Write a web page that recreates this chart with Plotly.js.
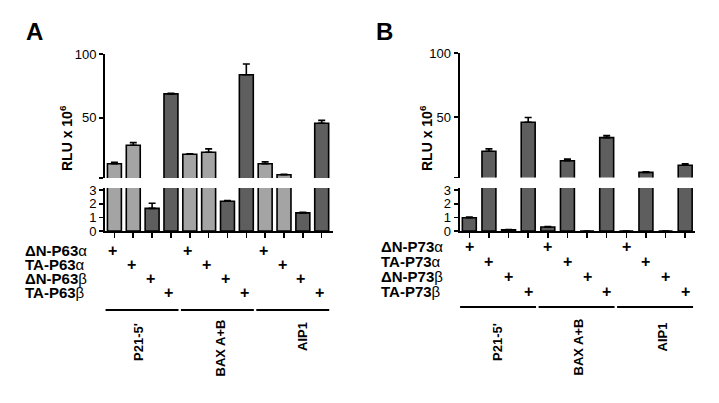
<!DOCTYPE html>
<html><head><meta charset="utf-8">
<script src="https://cdn.plot.ly/plotly-3.0.1.min.js"></script>
<style>html,body{margin:0;padding:0;background:#fff}</style>
</head><body><div id="chart" style="width:719px;height:403px"></div>
<script>
// ---------- data ----------
const groups = ["P21-5'", "BAX A+B", "AIP1"];
const isoformsA = ["ΔN-P63α", "TA-P63α", "ΔN-P63β", "TA-P63β"];
const isoformsB = ["ΔN-P73α", "TA-P73α", "ΔN-P73β", "TA-P73β"];
// RLU x 10^6, bars in order group x isoform
const valuesA = [14.1, 28.6, 1.66, 68.8, 21.6, 23.1, 2.18, 83.8, 14.1, 5.6, 1.33, 45.8];
const errorsA = [1.2, 2.1, 0.37, 0.5, 0.3, 2.7, 0.05, 8.4, 1.5, 0.2, 0.04, 2.3];
const valuesB = [0.97, 23.4, 0.08, 46.1, 0.29, 16.0, 0, 34.1, 0, 7.0, 0, 12.5];
const errorsB = [0.05, 1.9, 0.02, 3.7, 0.03, 1.3, 0, 1.5, 0, 0.4, 0, 1.1];
const upperTicks = [3, 50, 100];
const upperTickText = ["", "50", "100"];
const lowerTicks = [0, 1, 2, 3];

// ---------- styling / layout helpers ----------
const W = 719, H = 403;
const fx = p => p / W;
const fy = p => 1 - p / H;
const LIGHT = "#a4a4a4", DARK = "#5e5e5e";
const FONT = "Liberation Sans, Arial, sans-serif";

const panels = [
  { letter: "A", isoforms: isoformsA, values: valuesA, errors: errorsA,
    colorOf: iso => iso.endsWith("α") ? LIGHT : DARK,
    xl: 105, xr: 333, range: [-0.5, 11.6], upperTop: 54, upperBot: 178, lowerTop: 188, lowerBot: 231,
    barWidth: 0.74, rowY: [250.5, 264.5, 278.5, 292.5], labelX: 23, plusShift: -2,
    letterX: 34, titleX: 66, lineY: 310, groupLabelX: [138, 220, 302.5], groupLabelTop: [321, 317, 320] },
  { letter: "B", isoforms: isoformsB, values: valuesB, errors: errorsB,
    colorOf: iso => DARK,
    xl: 459.5, xr: 695, range: [-0.5, 11.5], upperTop: 53, upperBot: 177.5, lowerTop: 188, lowerBot: 231,
    barWidth: 0.71, rowY: [246, 261.5, 276, 291.5], labelX: 379, plusShift: 0,
    letterX: 384, titleX: 426, lineY: 307, groupLabelX: [497, 578, 662], groupLabelTop: [321, 317, 321] }
];

const traces = [];
const layout = {
  width: W, height: H, margin: { l: 0, r: 0, t: 0, b: 0 },
  paper_bgcolor: "#fff", plot_bgcolor: "rgba(0,0,0,0)",
  showlegend: false, font: { family: FONT, color: "#000", size: 12 },
  annotations: [], shapes: []
};

panels.forEach((p, pi) => {
  const xu = "x" + (pi * 2 + 1), yu = "y" + (pi * 2 + 1);
  const xl = "x" + (pi * 2 + 2), yl = "y" + (pi * 2 + 2);
  const xuKey = "xaxis" + (pi * 2 + 1), yuKey = "yaxis" + (pi * 2 + 1);
  const xlKey = "xaxis" + (pi * 2 + 2), ylKey = "yaxis" + (pi * 2 + 2);

  const bars = [];
  groups.forEach(g => p.isoforms.forEach(iso => bars.push({ g, iso })));
  const xs = bars.map((b, i) => i);
  const colors = bars.map(b => p.colorOf(b.iso));

  const dom = [fx(p.xl), fx(p.xr)];
  [[xu, yu], [xl, yl]].forEach(([xa, ya]) => {
    traces.push({
      type: "bar", x: xs, y: p.values, xaxis: xa, yaxis: ya, width: p.barWidth,
      marker: { color: colors, line: { color: "#000", width: 1.6 } },
      error_y: { type: "data", symmetric: false, array: p.errors, arrayminus: p.errors.map(() => 0),
                 color: "#000", thickness: 1.6, width: 3.5 },
      hoverinfo: "skip"
    });
  });

  layout[xuKey] = { domain: dom, range: p.range, anchor: yu, visible: false, fixedrange: true };
  layout[yuKey] = { domain: [fy(p.upperBot), fy(p.upperTop)], range: [3, 100], anchor: xu,
    showline: true, linewidth: 2, linecolor: "#000", ticks: "outside", ticklen: 4, tickwidth: 1.6,
    tickcolor: "#000", tickvals: upperTicks, ticktext: upperTickText, showgrid: false, zeroline: false,
    tickfont: { size: 13, family: FONT, color: "#000" }, fixedrange: true };
  layout[xlKey] = { domain: dom, range: p.range, anchor: yl, showline: true, linewidth: 2, linecolor: "#000",
    ticks: "outside", ticklen: 5, tickwidth: 1.6, tickcolor: "#000", tickvals: xs, showticklabels: false,
    showgrid: false, zeroline: false, fixedrange: true };
  layout[ylKey] = { domain: [fy(p.lowerBot), fy(p.lowerTop)], range: [0, 3.15], anchor: xl,
    showline: true, linewidth: 2, linecolor: "#000", ticks: "outside", ticklen: 4, tickwidth: 1.6,
    tickcolor: "#000", tickvals: lowerTicks, showgrid: false, zeroline: false,
    tickfont: { size: 13, family: FONT, color: "#000" }, fixedrange: true };

  // panel letter
  layout.annotations.push({ text: "<b>" + p.letter + "</b>", xref: "paper", yref: "paper",
    x: fx(p.letterX), y: fy(31.5), xanchor: "center", yanchor: "middle", showarrow: false,
    font: { size: 24, family: FONT, color: "#000" } });
  // y title
  layout.annotations.push({ text: "<b>RLU x 10<sup>6</sup></b>", xref: "paper", yref: "paper",
    x: fx(p.titleX), y: fy(138), xanchor: "center", yanchor: "middle", textangle: -90, showarrow: false,
    font: { size: 14, family: FONT, color: "#000" } });
  // row labels
  p.isoforms.forEach((iso, r) => {
    layout.annotations.push({ text: "<b>" + iso.slice(0, -1) + "</b>" + iso.slice(-1),
      xref: "paper", yref: "paper", x: fx(p.labelX), y: fy(p.rowY[r]), xanchor: "left", yanchor: "middle",
      showarrow: false, font: { size: 15, family: FONT, color: "#000" } });
  });
  // plus signs
  bars.forEach((b, i) => {
    const r = p.isoforms.indexOf(b.iso);
    layout.annotations.push({ text: "<b>+</b>", xref: xl, yref: "paper", x: i, y: fy(p.rowY[r]),
      xanchor: "center", yanchor: "middle", xshift: p.plusShift, showarrow: false,
      font: { size: 16, family: FONT, color: "#000" } });
  });
  // group lines and labels
  groups.forEach((g, gi) => {
    const idx = bars.map((b, i) => b.g === g ? i : null).filter(v => v !== null);
    const first = Math.min(...idx), last = Math.max(...idx);
    layout.shapes.push({ type: "line", xref: xl, yref: "paper", x0: first - 0.47, x1: last + 0.4,
      y0: fy(p.lineY), y1: fy(p.lineY), line: { color: "#000", width: 2 } });
    layout.annotations.push({ text: "<b>" + g + "</b>", xref: "paper", yref: "paper",
      x: fx(p.groupLabelX[gi]), y: fy(p.groupLabelTop[gi]), xanchor: "center", yanchor: "top",
      textangle: -90, showarrow: false, font: { size: 13, family: FONT, color: "#000" } });
  });
});

Plotly.newPlot("chart", traces, layout, { staticPlot: true, displayModeBar: false });
</script>
</body></html>
